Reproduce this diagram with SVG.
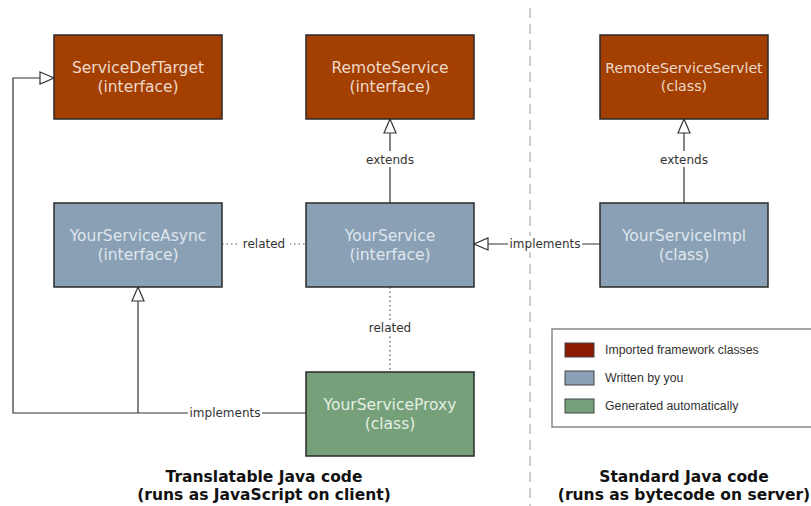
<svg xmlns="http://www.w3.org/2000/svg" width="811" height="506" viewBox="0 0 811 506">
<style>
.box{stroke:#2a2a2a;stroke-width:1.5}
.imp{fill:#a33f00}
.you{fill:#8aa0b4}
.gen{fill:#76a07a}
.bt{font-family:"DejaVu Sans",Verdana,sans-serif;font-size:15.5px;text-anchor:middle}
.sm{font-size:14.2px}
.lbl{font-family:"DejaVu Sans",Verdana,sans-serif;font-size:12px;fill:#333;text-anchor:middle}
.ln{fill:none;stroke:#333;stroke-width:1.2}
.dot{fill:none;stroke:#555;stroke-width:1.2;stroke-dasharray:1.5 3}
.lg{font-family:"Liberation Sans",Arial,sans-serif;font-size:12.3px;fill:#333}
.ft{font-family:"DejaVu Sans",Verdana,sans-serif;font-size:15.5px;font-weight:bold;fill:#111;text-anchor:middle}
</style>
<defs>
<marker id="tri" markerWidth="16" markerHeight="14" refX="15" refY="7" orient="auto" markerUnits="userSpaceOnUse">
<path d="M1,1 L15,7 L1,13 Z" fill="#fff" stroke="#333" stroke-width="1.2"/>
</marker>
</defs>
<line x1="530" y1="8" x2="530" y2="506" stroke="#ccc" stroke-width="2" stroke-dasharray="10 6"/>
<g id="connectors">
<polyline class="ln" points="306,413 13,413 13,78 54,78" marker-end="url(#tri)"/>
<line class="ln" x1="138" y1="413" x2="138" y2="287" marker-end="url(#tri)"/>
<line class="ln" x1="390" y1="203" x2="390" y2="119" marker-end="url(#tri)"/>
<line class="ln" x1="684" y1="203" x2="684" y2="119" marker-end="url(#tri)"/>
<line class="ln" x1="600" y1="244" x2="474" y2="244" marker-end="url(#tri)"/>
<line class="dot" x1="222" y1="244" x2="306" y2="244"/>
<line class="dot" x1="390" y1="287" x2="390" y2="372"/>
<rect x="362" y="151" width="56" height="16" fill="#fff"/>
<text class="lbl" x="390" y="164">extends</text>
<rect x="656" y="151" width="56" height="16" fill="#fff"/>
<text class="lbl" x="684" y="164">extends</text>
<rect x="240" y="236" width="50" height="16" fill="#fff"/>
<text class="lbl" x="264" y="248">related</text>
<rect x="365" y="320" width="50" height="16" fill="#fff"/>
<text class="lbl" x="390" y="332">related</text>
<rect x="508" y="236" width="74" height="16" fill="#fff"/>
<text class="lbl" x="545" y="248">implements</text>
<rect x="188" y="405" width="74" height="16" fill="#fff"/>
<text class="lbl" x="225" y="417">implements</text>
</g>
<g id="ServiceDefTarget">
<rect class="box imp" x="54" y="35" width="168" height="84"/>
<text class="bt" fill="#efd9ca" x="138" y="73">ServiceDefTarget</text>
<text class="bt" fill="#efd9ca" x="138" y="92">(interface)</text>
</g>
<g id="RemoteService">
<rect class="box imp" x="306" y="35" width="168" height="84"/>
<text class="bt" fill="#efd9ca" x="390" y="73">RemoteService</text>
<text class="bt" fill="#efd9ca" x="390" y="92">(interface)</text>
</g>
<g id="RemoteServiceServlet">
<rect class="box imp" x="600" y="35" width="168" height="84"/>
<text class="bt sm" fill="#efd9ca" x="684" y="73">RemoteServiceServlet</text>
<text class="bt sm" fill="#efd9ca" x="684" y="91">(class)</text>
</g>
<g id="YourServiceAsync">
<rect class="box you" x="54" y="203" width="168" height="84"/>
<text class="bt" fill="#dfe6ee" x="138" y="241">YourServiceAsync</text>
<text class="bt" fill="#dfe6ee" x="138" y="260">(interface)</text>
</g>
<g id="YourService">
<rect class="box you" x="306" y="203" width="168" height="84"/>
<text class="bt" fill="#dfe6ee" x="390" y="241">YourService</text>
<text class="bt" fill="#dfe6ee" x="390" y="260">(interface)</text>
</g>
<g id="YourServiceImpl">
<rect class="box you" x="600" y="203" width="168" height="84"/>
<text class="bt" fill="#dfe6ee" x="684" y="241">YourServiceImpl</text>
<text class="bt" fill="#dfe6ee" x="684" y="260">(class)</text>
</g>
<g id="YourServiceProxy">
<rect class="box gen" x="306" y="372" width="168" height="84"/>
<text class="bt" fill="#e4efe4" x="390" y="410">YourServiceProxy</text>
<text class="bt" fill="#e4efe4" x="390" y="429">(class)</text>
</g>
<g id="legend">
<rect x="552" y="329" width="262" height="98" fill="#fff" stroke="#888" stroke-width="1.5"/>
<rect x="565" y="343" width="29" height="14" fill="#8b1a00" stroke="#444"/>
<text class="lg" x="605" y="354">Imported framework classes</text>
<rect x="565" y="371" width="29" height="14" fill="#8aa0b4" stroke="#444"/>
<text class="lg" x="605" y="382">Written by you</text>
<rect x="565" y="399" width="29" height="14" fill="#76a07a" stroke="#444"/>
<text class="lg" x="605" y="410">Generated automatically</text>
</g>
<text class="ft" x="264" y="482">Translatable Java code</text>
<text class="ft" x="264" y="500">(runs as JavaScript on client)</text>
<text class="ft" x="684" y="482">Standard Java code</text>
<text class="ft" x="684" y="500">(runs as bytecode on server)</text>
</svg>
